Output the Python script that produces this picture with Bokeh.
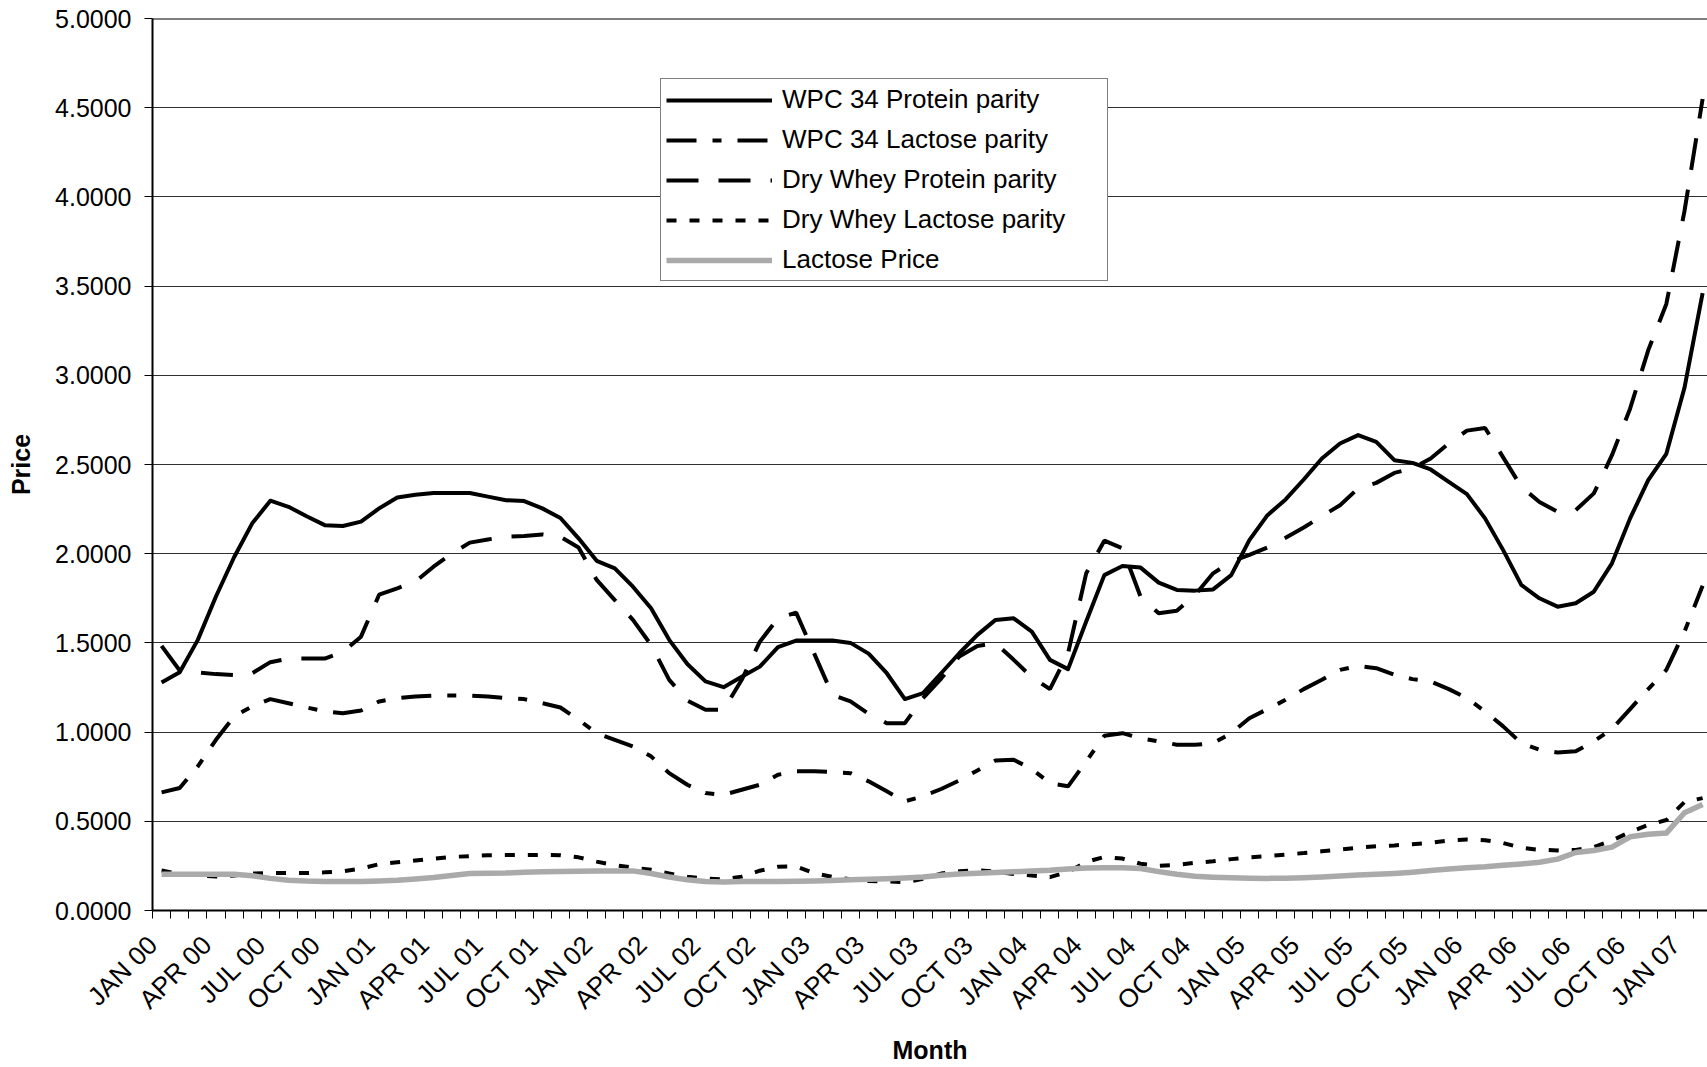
import math
from bokeh.plotting import figure
from bokeh.models import (FixedTicker, NumeralTickFormatter, Range1d, Legend,
                          LegendItem, Span)
from bokeh.embed import file_html
from bokeh.resources import INLINE

MONTH_NAMES = ["JAN", "FEB", "MAR", "APR", "MAY", "JUN",
               "JUL", "AUG", "SEP", "OCT", "NOV", "DEC"]
months = [f"{m} {y:02d}" for y in range(0, 8) for m in MONTH_NAMES][:86]

tick_labels = ["JAN 00", "APR 00", "JUL 00", "OCT 00", "JAN 01", "APR 01", "JUL 01", "OCT 01",
               "JAN 02", "APR 02", "JUL 02", "OCT 02", "JAN 03", "APR 03", "JUL 03", "OCT 03",
               "JAN 04", "APR 04", "JUL 04", "OCT 04", "JAN 05", "APR 05", "JUL 05", "OCT 05",
               "JAN 06", "APR 06", "JUL 06", "OCT 06", "JAN 07"]

y_ticks = [0.0, 0.5, 1.0, 1.5, 2.0, 2.5, 3.0, 3.5, 4.0, 4.5, 5.0]

wpc34_protein = [1.278, 1.336, 1.517, 1.76, 1.98, 2.17, 2.297, 2.263, 2.21, 2.16, 2.155, 2.18,
                 2.254, 2.315, 2.33, 2.34, 2.34, 2.34, 2.32, 2.30, 2.295, 2.254, 2.20, 2.086,
                 1.96, 1.918, 1.815, 1.694, 1.517, 1.382, 1.284, 1.252, 1.31, 1.367, 1.476, 1.513,
                 1.513, 1.513, 1.50, 1.44, 1.33, 1.185, 1.218,
                 1.33, 1.442, 1.545, 1.629, 1.638, 1.563, 1.405, 1.353, 1.62, 1.88, 1.931, 1.922,
                 1.838, 1.797, 1.793, 1.80, 1.88, 2.076, 2.216, 2.304, 2.416, 2.534, 2.618, 2.665,
                 2.627, 2.524, 2.509, 2.472, 2.403, 2.334, 2.198, 2.02, 1.825, 1.75, 1.703, 1.722,
                 1.787, 1.946, 2.198, 2.412, 2.56, 2.93, 3.46]

wpc34_lactose = [0.662, 0.687, 0.808, 0.957, 1.088, 1.144, 1.185, 1.162, 1.138, 1.116, 1.106, 1.121,
                 1.172, 1.19, 1.20, 1.205, 1.205, 1.205, 1.20, 1.19, 1.185, 1.162, 1.138, 1.069,
                 0.994, 0.957, 0.92, 0.864, 0.77, 0.705, 0.658, 0.649, 0.677, 0.705, 0.761, 0.78,
                 0.78, 0.776, 0.77, 0.724, 0.668, 0.612, 0.64,
                 0.681, 0.729, 0.785, 0.841, 0.845, 0.793, 0.714, 0.696, 0.836, 0.979, 0.994, 0.966,
                 0.948, 0.929, 0.929, 0.938, 0.994, 1.078, 1.129, 1.181, 1.241, 1.293, 1.349, 1.371,
                 1.358, 1.321, 1.297, 1.284, 1.241, 1.19, 1.116, 1.032, 0.938, 0.901, 0.886, 0.892,
                 0.948, 1.017, 1.129, 1.241, 1.349, 1.563, 1.82]

dry_whey_protein = [1.483, 1.345, 1.334, 1.325, 1.319, 1.33, 1.392, 1.412, 1.412, 1.412, 1.448, 1.535,
                    1.77, 1.806, 1.843, 1.927, 2.00, 2.062, 2.08, 2.095, 2.099, 2.108, 2.095, 2.035,
                    1.853, 1.74, 1.629, 1.489, 1.293, 1.177, 1.125, 1.125, 1.293, 1.507, 1.638, 1.67,
                    1.44, 1.209, 1.172, 1.103, 1.05, 1.05, 1.19,
                    1.30, 1.424, 1.483, 1.498, 1.405, 1.308, 1.241, 1.442, 1.89, 2.073, 2.03, 1.759,
                    1.666, 1.68, 1.768, 1.89, 1.955, 1.993, 2.035, 2.09, 2.147, 2.21, 2.272, 2.366,
                    2.397, 2.453, 2.478, 2.534, 2.618, 2.69, 2.705, 2.54, 2.375, 2.29, 2.235, 2.244,
                    2.338, 2.552, 2.813, 3.14, 3.40, 3.92, 4.549]

dry_whey_lactose = [0.224, 0.205, 0.197, 0.19, 0.196, 0.207, 0.21, 0.21, 0.21, 0.214, 0.22, 0.235,
                    0.26, 0.27, 0.28, 0.29, 0.30, 0.305, 0.31, 0.311, 0.311, 0.312, 0.31, 0.298,
                    0.274, 0.254, 0.241, 0.228, 0.207, 0.189, 0.18, 0.174, 0.19, 0.223, 0.245, 0.247,
                    0.21, 0.188, 0.175, 0.166, 0.163, 0.158, 0.178,
                    0.207, 0.22, 0.226, 0.218, 0.205, 0.196, 0.187, 0.216, 0.272, 0.3, 0.291, 0.262,
                    0.25, 0.256, 0.267, 0.276, 0.288, 0.298, 0.305, 0.313, 0.322, 0.332, 0.342, 0.352,
                    0.36, 0.365, 0.372, 0.38, 0.392, 0.398, 0.394, 0.378, 0.352, 0.34, 0.337, 0.339,
                    0.356, 0.392, 0.44, 0.48, 0.507, 0.608, 0.63]

lactose_price = [0.203, 0.203, 0.203, 0.203, 0.203, 0.195, 0.18, 0.17, 0.165, 0.163, 0.163, 0.163,
                 0.166, 0.17, 0.177, 0.185, 0.196, 0.207, 0.209, 0.21, 0.215, 0.217, 0.218, 0.22,
                 0.222, 0.222, 0.222, 0.207, 0.188, 0.172, 0.162, 0.16, 0.162, 0.163, 0.163, 0.164,
                 0.165, 0.168, 0.172, 0.175, 0.178, 0.182, 0.188,
                 0.198, 0.205, 0.209, 0.213, 0.217, 0.222, 0.226, 0.233, 0.238, 0.24, 0.24, 0.235,
                 0.218, 0.203, 0.192, 0.187, 0.184, 0.181, 0.18, 0.181, 0.184, 0.188, 0.193, 0.199,
                 0.203, 0.208, 0.215, 0.224, 0.232, 0.239, 0.245, 0.254, 0.261, 0.27, 0.288, 0.325,
                 0.336, 0.355, 0.413, 0.427, 0.434, 0.548, 0.594]

x = list(range(len(months)))
FONT = "Liberation Sans"

p = figure(width=1707, height=1067, output_backend="svg", toolbar_location=None,
           x_range=Range1d(-0.5, 85.27), y_range=Range1d(0, 5),
           min_border_left=152, min_border_right=0, min_border_top=18, min_border_bottom=156)
p.outline_line_color = None
p.background_fill_color = "white"
p.border_fill_color = "white"

# x axis: category boundaries as small ticks, labels every quarter
tick_pos = [months.index(t) - 0.5 for t in tick_labels]
p.xaxis.ticker = FixedTicker(ticks=tick_pos, minor_ticks=[i - 0.5 for i in range(len(months) + 1)])
p.xaxis.major_label_overrides = {pos: lab for pos, lab in zip(tick_pos, tick_labels)}
p.xaxis.major_label_orientation = math.pi / 4
p.xaxis.major_tick_out = 0
p.xaxis.major_tick_in = 0
p.xaxis.minor_tick_out = 8
p.xaxis.minor_tick_in = 0
p.xaxis.minor_tick_line_color = "black"
p.xaxis.axis_line_width = 2
p.xaxis.axis_line_color = "black"
p.xaxis.major_label_standoff = 22
p.xaxis.major_label_text_font = FONT
p.xaxis.major_label_text_font_size = "26px"
p.xaxis.major_label_text_color = "black"
p.xaxis.axis_label = "Month"
p.xaxis.axis_label_text_font = FONT
p.xaxis.axis_label_text_font_style = "bold"
p.xaxis.axis_label_text_font_size = "25px"
p.xaxis.axis_label_text_color = "black"
p.xaxis.axis_label_standoff = 7
p.xgrid.visible = False

# y axis
p.yaxis.ticker = FixedTicker(ticks=y_ticks, minor_ticks=[])
p.yaxis.formatter = NumeralTickFormatter(format="0.0000")
p.yaxis.major_tick_out = 8
p.yaxis.major_tick_in = 0
p.yaxis.major_tick_line_color = "black"
p.yaxis.axis_line_width = 2
p.yaxis.axis_line_color = "black"
p.yaxis.major_label_standoff = 13
p.yaxis.major_label_text_font = FONT
p.yaxis.major_label_text_font_size = "25px"
p.yaxis.major_label_text_color = "black"
p.yaxis.axis_label = "Price"
p.yaxis.axis_label_text_font = FONT
p.yaxis.axis_label_text_font_style = "bold"
p.yaxis.axis_label_text_font_size = "25px"
p.yaxis.axis_label_text_color = "black"
p.yaxis.axis_label_standoff = 17
p.ygrid.ticker = FixedTicker(ticks=y_ticks)
p.ygrid.grid_line_color = "#303030"
p.ygrid.grid_line_width = 1

p.add_layout(Span(location=5, dimension="width", line_color="black", line_width=2))

r1 = p.line(x, wpc34_protein, line_color="black", line_width=4, line_join="round")
r2 = p.line(x, wpc34_lactose, line_color="black", line_width=4, line_dash="30 16 9 16")
r3 = p.line(x, dry_whey_protein, line_color="black", line_width=4, line_dash="32 20")
r4 = p.line(x, dry_whey_lactose, line_color="black", line_width=4, line_dash="10 13")
r5 = p.line(x, lactose_price, line_color="#aaaaaa", line_width=5.5, line_join="round")

legend = Legend(items=[LegendItem(label="WPC 34 Protein parity", renderers=[r1]),
                       LegendItem(label="WPC 34 Lactose parity", renderers=[r2]),
                       LegendItem(label="Dry Whey Protein parity", renderers=[r3]),
                       LegendItem(label="Dry Whey Lactose parity", renderers=[r4]),
                       LegendItem(label="Lactose Price", renderers=[r5])],
                location=(508, 629), padding=5, spacing=9, margin=0,
                glyph_width=106, glyph_height=20, label_height=20, label_standoff=10,
                label_width=320, label_text_font=FONT, label_text_font_size="26px",
                label_text_color="black", border_line_color="black", border_line_width=1,
                background_fill_color="white", background_fill_alpha=1.0)
p.add_layout(legend)

open("out.html", "w").write(file_html(p, INLINE))
